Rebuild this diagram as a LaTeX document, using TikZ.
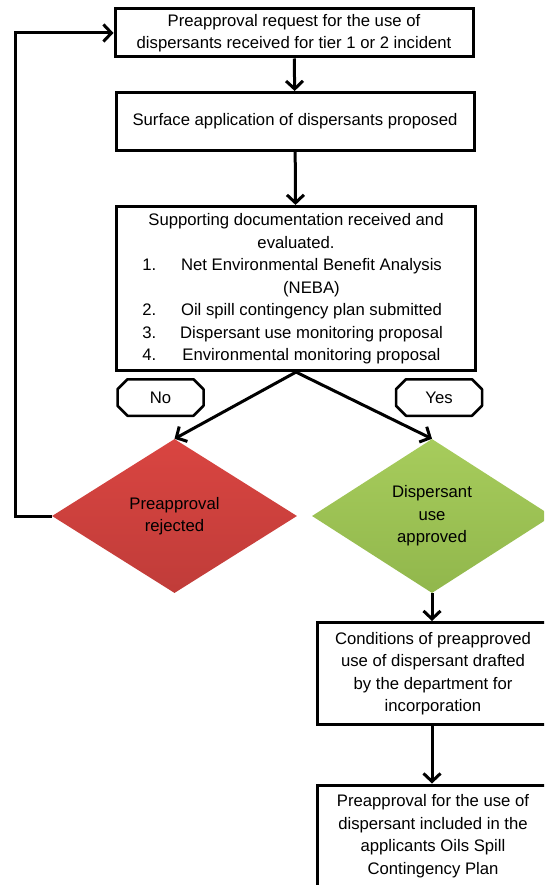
\documentclass[tikz,border=0pt]{standalone}
\usepackage{fontspec}
\setmainfont{Liberation Sans}
\usepackage{tikz}
\usetikzlibrary{shapes.geometric, arrows.meta}

\definecolor{rejectTop}{HTML}{D94541}
\definecolor{rejectBottom}{HTML}{C03C39}
\definecolor{approveTop}{HTML}{A7CC5C}
\definecolor{approveBottom}{HTML}{91B74C}

\begin{document}
\begin{tikzpicture}[x=1pt, y=-1pt]
	\tikzstyle{process} = [rectangle, draw=black, line width=3pt, fill=white, align=center, font=\fontsize{16.7}{22.5}\selectfont]
	\tikzstyle{decision} = [diamond, minimum width=245pt, minimum height=154pt, inner sep=0pt, align=center, font=\fontsize{16.7}{22.5}\selectfont]
	\tikzstyle{answer} = [rectangle, outer sep=0pt, minimum width=86pt, minimum height=36.5pt, font=\fontsize{16.7}{22.5}\selectfont]
	\tikzstyle{octline} = [draw=black, line width=2.5pt, fill=white, line join=round]
	\tikzstyle{arrow} = [line width=3pt, -{Straight Barb[length=8pt, width=17pt]}]
	\clip (0,0) rectangle (544,885);
	\node (request) [process, minimum width=358pt, minimum height=48pt] at (294,33) {Preapproval request for the use of\\dispersants received for tier 1 or 2 incident};
	\node (surface) [process, minimum width=358pt, minimum height=58pt] at (295,121.5) {Surface application of dispersants proposed};
	\node (support) [process, minimum width=359pt, minimum height=164pt] at (296,288.5) {\begin{tabular}{@{}l@{\hspace{17pt}}c@{}}
		\multicolumn{2}{c}{Supporting documentation received and}\\
		\multicolumn{2}{c}{evaluated.}\\
		1. & Net Environmental Benefit Analysis\\
		& (NEBA)\\
		2. & Oil spill contingency plan submitted\\
		3. & Dispersant use monitoring proposal\\
		4. & Environmental monitoring proposal
	\end{tabular}};
	\coordinate (noPos) at (160.5,397.5);
	\coordinate (yesPos) at (439,397.5);
	% octagon outlines behind the answer labels
	\foreach \n in {noPos, yesPos}
		\draw [octline] ([xshift=-33pt, yshift=18.25pt]\n) -- ([xshift=33pt, yshift=18.25pt]\n) -- ([xshift=43pt, yshift=8.25pt]\n) -- ([xshift=43pt, yshift=-8.25pt]\n) -- ([xshift=33pt, yshift=-18.25pt]\n) -- ([xshift=-33pt, yshift=-18.25pt]\n) -- ([xshift=-43pt, yshift=-8.25pt]\n) -- ([xshift=-43pt, yshift=8.25pt]\n) -- cycle;
	\node (no) [answer] at (noPos) {No};
	\node (yes) [answer] at (yesPos) {Yes};
	\node (rejected) [decision, top color=rejectTop, bottom color=rejectBottom] at (174.5,516) {Preapproval\\rejected};
	\node (approved) [decision, minimum width=240pt, top color=approveTop, bottom color=approveBottom] at (432,516) {Dispersant\\use\\approved};
	\node (conditions) [process, minimum width=231pt, minimum height=102pt] at (433,673.5) {Conditions of preapproved\\use of dispersant drafted\\by the department for\\incorporation};
	\node (included) [process, minimum width=231pt, minimum height=102pt] at (433,836) {Preapproval for the use of\\dispersant included in the\\applicants Oils Spill\\Contingency Plan};
	\coordinate (corner) at (15,33);
	\draw [arrow] (request) -- (surface);
	\draw [arrow] (surface) -- (support);
	\draw [arrow] (support.south) -- (rejected.north);
	\draw [arrow] (support.south) -- (approved.north);
	\draw [arrow] (rejected.west) -| (corner) -- (request.west);
	\draw [arrow] (approved.south) -- (approved.south |- conditions.north);
	\draw [arrow] (conditions.south -| approved.south) -- (approved.south |- included.north);
\end{tikzpicture}
\end{document}
